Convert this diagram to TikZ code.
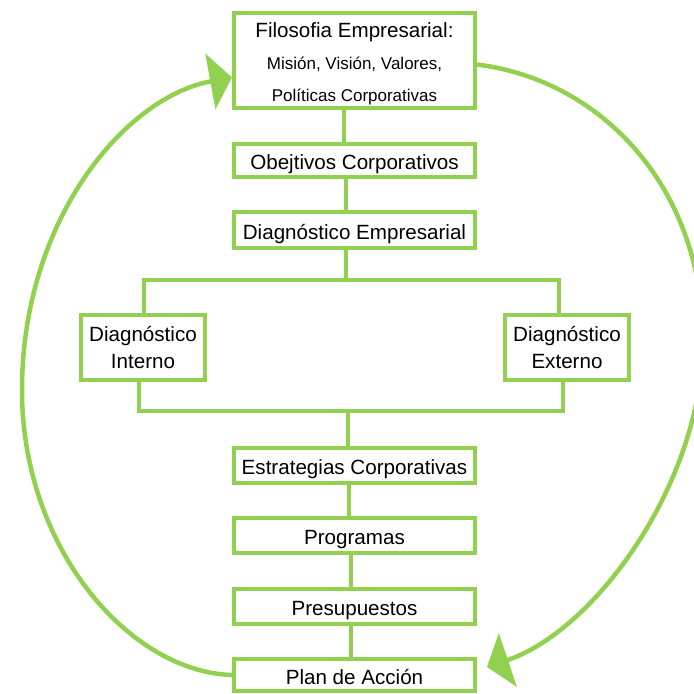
\documentclass[tikz,border=0pt]{standalone}
\usepackage{fontspec}
\setmainfont{Liberation Sans}
\usetikzlibrary{calc}
\usetikzlibrary{arrows.meta}
\definecolor{frame colour}{RGB}{146,208,80}
\tikzset{
    % Every box and line shares the same green
    box/.style={draw=frame colour, fill=white, line width=4pt, inner sep=0,
        font=\fontsize{20.6}{27}\selectfont, align=center},
    wide box/.style={box, minimum width=241pt, minimum height=#1,
        text height=18.8pt, text depth=0pt},
    side box/.style={box, minimum width=124pt, minimum height=65pt},
    % Plain joining lines
    link/.style={draw=frame colour, line width=4pt},
    % The two big curved arrows round the outside
    feedback/.style={draw=frame colour, line width=4.5pt,
        -{Triangle[length=22pt, width=56pt]}},
}

\begin{document}
\begin{tikzpicture}[x=1pt, y=-1pt]
\useasboundingbox (0,0) rectangle (694,694);

% Main column of boxes
\path
    (354.5,60.5) node [box, minimum width=241pt, minimum height=95pt,
        font=\fontsize{17}{32}\selectfont] (filosofia)
        {\rule{0pt}{21pt}{\fontsize{20.6}{32}\selectfont Filosofia Empresarial:}\\
         Misión, Visión, Valores,\\
         Políticas Corporativas}
    ++(0,100) node [wide box=33pt] (objetivos) {Obejtivos Corporativos}
    ++(0,69.5) node [wide box=36pt] (diag emp) {Diagnóstico Empresarial}
    ++(0,235.5) node [wide box=35pt] (estrategias) {Estrategias Corporativas}
    ++(0,70) node [wide box=35pt] (programas) {Programas}
    ++(0,71) node [wide box=35pt] (presupuestos) {Presupuestos}
    ++(0,68.5) node [wide box=32pt] (plan) {Plan de Acción};

% The two branches
\path
    (143,347.5) node [side box] (interno) {Diagnóstico\\Interno}
    (567,347.5) node [side box] (externo) {Diagnóstico\\Externo};

\coordinate (top fork) at (346,280);
\coordinate (bottom fork) at (348,411);

\draw [link] ([xshift=-11pt]filosofia.south) -- ([xshift=-11pt]objetivos.north);
\draw [link] ([xshift=-9pt]objetivos.south) -- ([xshift=-9pt]diag emp.north);
\draw [link] (diag emp.south -| top fork) -- (top fork);
\draw [link]
    ([xshift=1pt]interno.north) |- (top fork) -| ([xshift=-8pt]externo.north);
\draw [link]
    ([xshift=-4pt]interno.south) |- (bottom fork) -| ([xshift=-4pt]externo.south);
\draw [link] (bottom fork) -- (estrategias.north -| bottom fork);
\draw [link] ([xshift=-6pt]estrategias.south) -- ([xshift=-6pt]programas.north);
\draw [link] ([xshift=-4pt]programas.south) -- ([xshift=-4pt]presupuestos.north);
\draw [link] ([xshift=-4pt]presupuestos.south) -- ([xshift=-4pt]plan.north);

% Feedback loop
\draw [feedback]
    (plan.west) .. controls (130,672) and (22,549) .. (22,390)
    .. controls (22,220) and (125,97) .. ($(filosofia.west)+(0,17)$);
\draw [feedback]
    ($(filosofia.east)+(0,4)$) .. controls (602,80) and (703,188) .. (703,340)
    .. controls (703,480) and (597,630) .. ($(plan.east)+(10,-8)$);

\end{tikzpicture}
\end{document}
